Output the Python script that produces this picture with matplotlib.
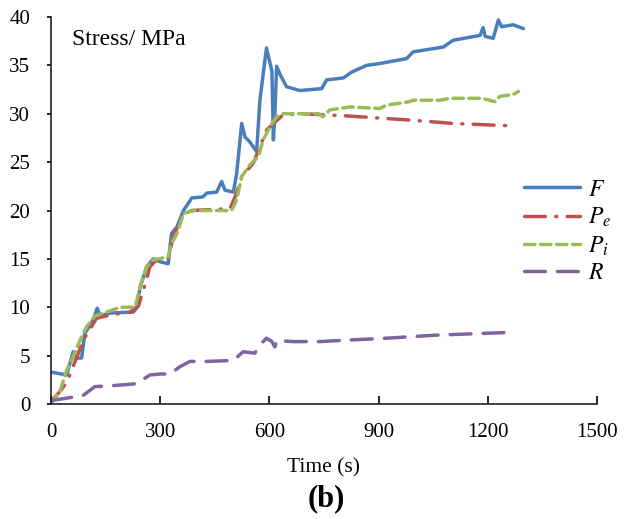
import numpy as np
import matplotlib.pyplot as plt

plt.rcParams['font.family'] = ['Liberation Serif', 'DejaVu Serif']
plt.rcParams['mathtext.fontset'] = 'stix'

# F - measured stress
t_F = [0, 43, 61, 70, 84, 93, 116, 127, 135, 162, 226, 235, 245, 263, 281, 300, 322,
       331, 346, 364, 387, 417, 428, 455, 469, 478, 501, 510, 524, 533, 546, 565, 574,
       592, 602, 607, 611, 615, 620, 629, 647, 684, 744, 757, 803, 826, 867, 904, 977,
       995, 1078, 1105, 1179, 1187, 1193, 1215, 1229, 1238, 1270, 1298]
F = [3.3, 3.0, 5.4, 4.75, 4.75, 7.3, 8.7, 9.9, 9.1, 9.4, 9.5, 9.9, 12.1, 14.2, 15.0,
     14.7, 14.5, 17.6, 18.3, 20.0, 21.3, 21.4, 21.8, 21.9, 23.0, 22.1, 21.9, 23.8, 29.0,
     27.6, 27.1, 26.1, 31.4, 36.8, 35.2, 34.4, 27.3, 30.0, 34.9, 34.1, 32.8, 32.4, 32.6,
     33.5, 33.7, 34.3, 35.0, 35.2, 35.7, 36.4, 36.9, 37.6, 38.1, 38.9, 38.0, 37.8, 39.7,
     39.0, 39.2, 38.8]

# Pe
t_Pe = [0, 16, 43, 70, 89, 125, 162, 217, 240, 254, 272, 290, 322, 336, 364, 387, 492,
        510, 524, 556, 574, 592, 611, 638, 693, 803, 986, 1105, 1233, 1275]
Pe = [0.3, 0.9, 2.2, 4.75, 6.6, 8.85, 9.2, 9.5, 10.1, 11.8, 14.2, 14.9, 15.0, 17.3,
      19.7, 20.0, 20.2, 21.8, 23.5, 24.9, 26.6, 28.3, 29.0, 29.9, 30.0, 29.8, 29.35,
      29.0, 28.8, 28.75]

# Pi
t_Pi = [0, 25, 43, 61, 80, 98, 121, 153, 190, 231, 245, 263, 281, 322, 331, 346, 364,
        392, 428, 496, 510, 524, 546, 570, 583, 602, 620, 638, 735, 748, 766, 822, 904,
        922, 986, 995, 1069, 1096, 1183, 1220, 1233, 1270, 1284]
Pi = [0.0, 1.3, 3.5, 4.9, 6.6, 8.0, 9.1, 9.5, 10.0, 10.0, 12.1, 14.2, 14.9, 15.2, 16.6,
      17.6, 19.7, 20.0, 20.0, 20.0, 21.1, 23.5, 24.7, 25.6, 27.3, 28.7, 29.7, 30.0, 30.0,
      29.7, 30.4, 30.7, 30.55, 30.9, 31.25, 31.4, 31.4, 31.6, 31.6, 31.25, 31.8, 32.0,
      32.3]

# R
t_R = [0, 43, 89, 121, 153, 204, 235, 272, 300, 327, 354, 382, 428, 501, 528, 560, 579,
       592, 607, 615, 620, 666, 739, 812, 922, 1050, 1188, 1261]
R = [0.35, 0.6, 0.9, 1.8, 1.85, 2.0, 2.1, 3.0, 3.1, 3.1, 3.85, 4.4, 4.4, 4.5, 5.4, 5.25,
     6.3, 6.8, 6.45, 5.9, 6.55, 6.45, 6.45, 6.6, 6.8, 7.1, 7.3, 7.4]

fig = plt.figure(figsize=(6.27, 5.19), dpi=100)
ax = fig.add_axes([0.0813, 0.2216, 0.8708, 0.7456])

lw = 2.5
ax.plot(t_F, F, color='#4a7ebb', lw=lw, label=r'$F$', solid_capstyle='round',
        solid_joinstyle='round')
ax.plot(t_Pe, Pe, color='#c0504d', lw=lw, dashes=(6, 3, 0.3, 3), dash_capstyle='round',
        label=r'$P_e$')
ax.plot(t_Pi, Pi, color='#9bbb59', lw=lw, dashes=(3, 1.6), dash_capstyle='round',
        label=r'$P_i$')
ax.plot(t_R, R, color='#8064a2', lw=lw, dashes=(6, 3.5), dash_capstyle='round',
        label=r'$R$')

ax.set_xlim(0, 1500)
ax.set_ylim(0, 40)
ax.set_xticks(np.arange(0, 1501, 300))
ax.set_yticks(np.arange(0, 41, 5))
ax.spines['top'].set_visible(False)
ax.spines['right'].set_visible(False)
for s in ['left', 'bottom']:
    ax.spines[s].set_linewidth(1.2)
    ax.spines[s].set_color('#222222')
ax.tick_params(axis='x', direction='in', length=6, width=1.2, labelsize=15, pad=13.5)
ax.tick_params(axis='y', direction='out', length=3, width=1.2, labelsize=15, pad=12)

ax.text(0.038, 0.97, 'Stress/ MPa', transform=ax.transAxes, fontsize=17,
        va='top', ha='left')
ax.set_xlabel('Time (s)', fontsize=15.5, labelpad=12)
fig.text(0.52, 0.039, '(b)', fontsize=22, fontweight='bold', ha='center', va='center')

ax.legend(loc='center left', bbox_to_anchor=(0.866, 0.445), frameon=False,
          fontsize=17, handlelength=2.4, handletextpad=0.3, labelspacing=0.22,
          borderaxespad=0, borderpad=0)

fig.savefig('out.png', dpi=100)
